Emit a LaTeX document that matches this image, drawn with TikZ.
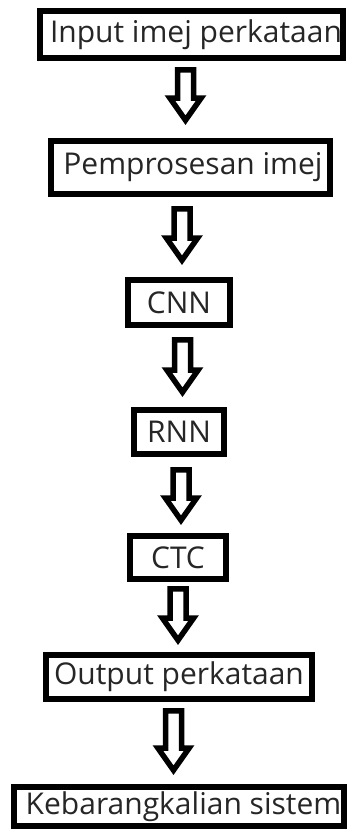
\documentclass[tikz,border=0pt]{standalone}
\usepackage{fontspec}
\setmainfont{Open Sans}
\usetikzlibrary{calc}
\tikzset{
  box/.style={draw=black, line width=6pt, fill=white, inner sep=0pt,
    text=black!85, font=\fontsize{30pt}{36pt}\selectfont},
  barrow/.style={draw=black, line width=5.5pt, line join=miter, miter limit=10,
    to path={let \p1=(\tikztostart), \p2=(\tikztotarget) in
      (\x1-8pt,\y1) -- (\x1-8pt,\y2+22pt) -- (\x1-15.5pt,\y2+22pt) -- (\x1,\y2)
      -- (\x1+15.5pt,\y2+22pt) -- (\x1+8pt,\y2+22pt) -- (\x1+8pt,\y1) -- cycle}}
}
\begin{document}
\begin{tikzpicture}[x=1pt,y=-1pt]
\useasboundingbox[fill=white] (0,0) rectangle (350,831);
\node[box, minimum width=303pt, minimum height=47pt] (in) at (191.5,34.5) {\hspace*{9pt}Input imej perkataan};
\node[box, minimum width=279pt, minimum height=53pt] (pp) at (190.5,167.5) {\hspace*{5pt}Pemprosesan imej};
\node[box, minimum width=102pt, minimum height=45pt] (cnn) at (179,302.5) {CNN};
\node[box, minimum width=90pt, minimum height=44pt] (rnn) at (179,432) {RNN};
\node[box, minimum width=96pt, minimum height=43pt] (ctc) at (178,557.5) {CTC};
\node[box, minimum width=266pt, minimum height=44pt] (out) at (179,677) {Output perkataan};
\node[box, minimum width=330pt, minimum height=39pt] (keb) at (179,806.5) {\hspace*{9pt}Kebarangkalian sistem};

\coordinate (a1s) at (185.5,69.75);  \coordinate (a1e) at (185.5,120.2);
\coordinate (a2s) at (182,208.75);   \coordinate (a2e) at (182,260.2);
\coordinate (a3s) at (182.5,339.75); \coordinate (a3e) at (182.5,392.2);
\coordinate (a4s) at (181,469.75);   \coordinate (a4e) at (181,520.2);
\coordinate (a5s) at (178,588.75);   \coordinate (a5e) at (178,640.2);
\coordinate (a6s) at (173.5,710.75); \coordinate (a6e) at (173.5,770.2);

\draw[barrow] (a1s) to (a1e);
\draw[barrow] (a2s) to (a2e);
\draw[barrow] (a3s) to (a3e);
\draw[barrow] (a4s) to (a4e);
\draw[barrow] (a5s) to (a5e);
\draw[barrow] (a6s) to (a6e);
\end{tikzpicture}
\end{document}
